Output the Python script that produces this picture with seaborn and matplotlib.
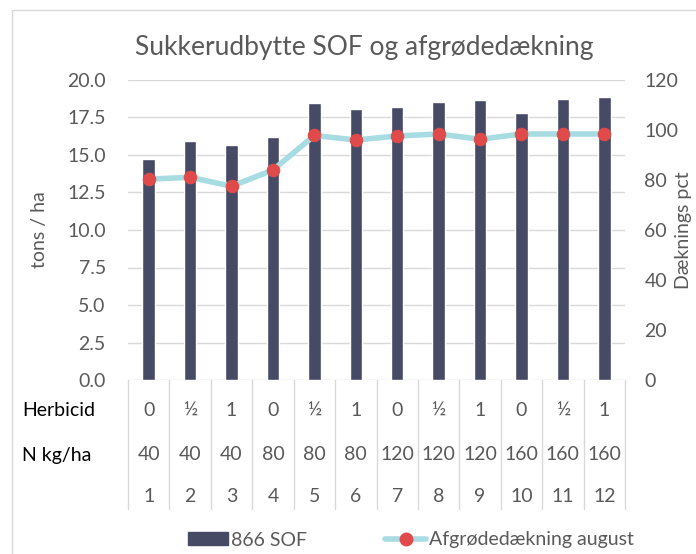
import numpy as np
import pandas as pd
import matplotlib
matplotlib.use("Agg")
import matplotlib.pyplot as plt
import seaborn as sns
from matplotlib.lines import Line2D
from matplotlib.patches import Patch, Rectangle

# --- DATA ---
forsoeg_nr = [1, 2, 3, 4, 5, 6, 7, 8, 9, 10, 11, 12]
herbicid = ["0", "½", "1", "0", "½", "1", "0", "½", "1", "0", "½", "1"]
n_kg_ha = [40, 40, 40, 80, 80, 80, 120, 120, 120, 160, 160, 160]
sof_udbytte = [14.7, 15.9, 15.65, 16.2, 18.45, 18.05, 18.2, 18.5, 18.65, 17.8, 18.75, 18.85]
daekning_aug = [80.3, 81.1, 77.5, 84.0, 97.8, 96.0, 97.6, 98.4, 96.3, 98.4, 98.4, 98.4]

df = pd.DataFrame({
    "nr": forsoeg_nr,
    "sof": sof_udbytte,
    "daekning": daekning_aug,
})
df["pos"] = np.arange(len(df))

BAR_COL = "#464a65"
LINE_COL = "#a8dce3"
DOT_COL = "#e04a4a"
TXT_COL = "#595959"
GRID_COL = "#d9d9d9"

sns.set_theme(style="white")
plt.rcParams["font.family"] = ["Lato", "DejaVu Sans"]

fig = plt.figure(figsize=(6.96, 5.54), dpi=100)
ax = fig.add_axes([128 / 696, 1 - 380 / 554, 497 / 696, 300 / 554])

sns.barplot(data=df, x="nr", y="sof", color=BAR_COL, width=0.3,
            saturation=1, ax=ax, zorder=2)
ax.set_ylim(0, 20)
ax.set_yticks(np.arange(0, 20.1, 2.5))
ax.set_yticklabels([f"{v:.1f}" for v in np.arange(0, 20.1, 2.5)])
ax.set_xlim(-0.5, 11.5)
ax.grid(axis="y", color=GRID_COL, lw=1, zorder=0)
ax.set_axisbelow(True)
ax.set_xticks([])
ax.set_xlabel("")
ax.set_ylabel("tons / ha", fontsize=14, color=TXT_COL, labelpad=14)
ax.tick_params(axis="y", length=0, pad=16, labelsize=14, labelcolor=TXT_COL)
for s in ax.spines.values():
    s.set_visible(False)

ax2 = ax.twinx()
sns.lineplot(data=df, x="pos", y="daekning", color=LINE_COL, lw=4,
             marker="o", markersize=9, markerfacecolor=DOT_COL,
             markeredgecolor=DOT_COL, ax=ax2, zorder=3)
ax2.set_ylim(0, 120)
ax2.set_yticks(np.arange(0, 121, 20))
ax2.set_xlim(-0.5, 11.5)
ax2.set_xlabel("")
ax2.set_ylabel("")
ax2.tick_params(axis="y", length=0, pad=14, labelsize=14, labelcolor=TXT_COL)
ax2.grid(False)
for s in ax2.spines.values():
    s.set_visible(False)
fig.text(684 / 696, 1 - 230 / 554, "Dæknings pct", rotation=90,
         ha="center", va="center", fontsize=14, color=TXT_COL)

# kategori-akse med flere niveauer
trans = ax.get_xaxis_transform()
for b in np.arange(-0.5, 12, 1):
    ax.plot([b, b], [0, -0.43], transform=trans, color=GRID_COL, lw=1,
            clip_on=False)
for i in range(len(forsoeg_nr)):
    ax.text(i, -0.10, herbicid[i], transform=trans, ha="center", va="center",
            fontsize=14, color=TXT_COL)
    ax.text(i, -0.25, str(n_kg_ha[i]), transform=trans, ha="center",
            va="center", fontsize=14, color=TXT_COL)
    ax.text(i, -0.39, str(forsoeg_nr[i]), transform=trans, ha="center",
            va="center", fontsize=14, color=TXT_COL)
fig.text(22 / 696, 1 - 410 / 554, "Herbicid", ha="left", va="center",
         fontsize=14, color="black")
fig.text(22 / 696, 1 - 455 / 554, "N kg/ha", ha="left", va="center",
         fontsize=14, color="black")

fig.suptitle("Sukkerudbytte SOF og afgrødedækning", x=0.523, y=1 - 47 / 554,
             va="center", fontsize=19, color=TXT_COL)

handles = [
    Patch(facecolor=BAR_COL, edgecolor=BAR_COL),
    Line2D([], [], color=LINE_COL, lw=4, marker="o", markersize=9,
           markerfacecolor=DOT_COL, markeredgecolor=DOT_COL),
]
fig.legend(handles, ["866 SOF", "Afgrødedækning august"], loc="center",
           bbox_to_anchor=(0.59, 1 - 540 / 554), ncol=2, frameon=False,
           fontsize=14, labelcolor=TXT_COL, handlelength=2.1,
           handleheight=0.6, columnspacing=4.0, handletextpad=0.15)

# ramme om diagramomraadet (kun venstre og top synlig)
fig.patches.append(Rectangle((12 / 696, -0.1), 1.2, 1 - 10 / 554 + 0.1,
                             transform=fig.transFigure, fill=False,
                             edgecolor=GRID_COL, lw=1))

fig.savefig("out.png", dpi=100)
plt.close(fig)
